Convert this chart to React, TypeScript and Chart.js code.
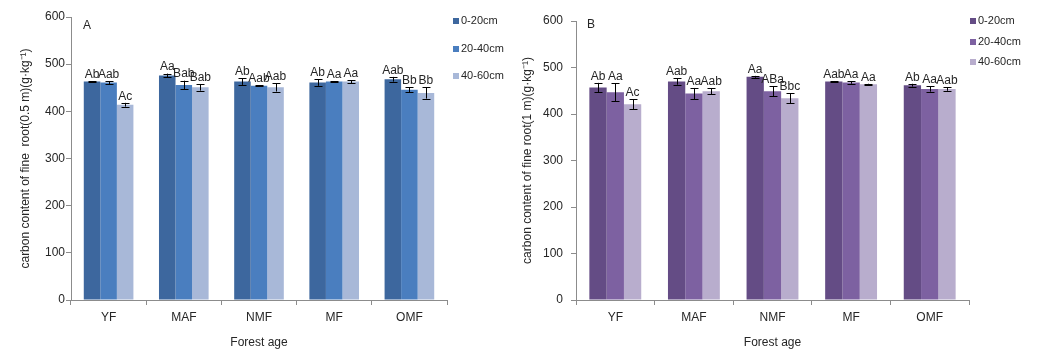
import React, { useEffect, useRef } from 'react';
import { Chart, registerables } from 'chart.js';

Chart.register(...registerables);

// ---- Data ----
const categories = ['YF', 'MAF', 'NMF', 'MF', 'OMF'];
const depthLabels = ['0-20cm', '20-40cm', '40-60cm'];
const yTickValues = [0, 100, 200, 300, 400, 500, 600];

// Panel A: carbon content of fine root (0.5 m)
const a_0_20 = [463, 476, 463, 461, 468];
const a_20_40 = [461, 456, 454, 463, 446];
const a_40_60 = [414, 451, 451, 463, 439];
const aErr_0_20 = [1, 4, 7, 7, 5];
const aErr_20_40 = [3, 9, 1, 1, 5];
const aErr_40_60 = [4, 7, 9, 3, 12];
const aSig_0_20 = ['Ab', 'Aa', 'Ab', 'Ab', 'Aab'];
const aSig_20_40 = ['Aab', 'Bab', 'Aab', 'Aa', 'Bb'];
const aSig_40_60 = ['Ac', 'Bab', 'Aab', 'Aa', 'Bb'];

// Panel B: carbon content of fine root (1 m)
const b_0_20 = [457, 470, 480, 470, 462];
const b_20_40 = [447, 444, 449, 468, 454];
const b_40_60 = [421, 449, 434, 464, 454];
const bErr_0_20 = [10, 7, 2, 1, 3];
const bErr_20_40 = [19, 12, 11, 3, 6];
const bErr_40_60 = [11, 6, 11, 1, 4];
const bSig_0_20 = ['Ab', 'Aab', 'Aa', 'Aab', 'Ab'];
const bSig_20_40 = ['Aa', 'Aa', 'ABa', 'Aa', 'Aa'];
const bSig_40_60 = ['Ac', 'Aab', 'Bbc', 'Aa', 'Aab'];

const colorsA = ['#3D679E', '#4A7EBF', '#A8B8D8'];
const colorsB = ['#644C85', '#7D61A1', '#B8ADCD'];

const FONT = "'Liberation Sans', Arial, sans-serif";
const AXIS_COLOR = '#8C8C8C';
const TEXT_COLOR = '#262626';

type PanelCfg = {
  left: number;
  width: number;
  padLeft: number;
  padTop: number;
  padRight: number;
  yAxisWidth: number;
  yTickPadding: number;
  yTitlePadTop: number;
  yTitle: string;
  letter: string;
  letterDx: number;
  letterY: number;
  legendDx: number;
  legendY0: number;
  legendStep: number;
  values: number[][];
  errors: number[][];
  sigs: string[][];
  colors: string[];
};

const panelA: PanelCfg = {
  left: 0,
  width: 520,
  padLeft: 14,
  padTop: 17,
  padRight: 73,
  yAxisWidth: 57,
  yTickPadding: 1,
  yTitlePadTop: 4,
  yTitle: 'carbon content of fine  root(0.5 m)(g·kg⁻¹)',
  letter: 'A',
  letterDx: 12,
  letterY: 26,
  legendDx: 6,
  legendY0: 21,
  legendStep: 27.5,
  values: [a_0_20, a_20_40, a_40_60],
  errors: [aErr_0_20, aErr_20_40, aErr_40_60],
  sigs: [aSig_0_20, aSig_20_40, aSig_40_60],
  colors: colorsA,
};

const panelB: PanelCfg = {
  left: 520,
  width: 527,
  padLeft: 0,
  padTop: 21,
  padRight: 78,
  yAxisWidth: 56,
  yTickPadding: 8,
  yTitlePadTop: 0,
  yTitle: 'carbon content of fine root(1 m)(g·kg⁻¹)',
  letter: 'B',
  letterDx: 11,
  letterY: 25,
  legendDx: 1,
  legendY0: 21,
  legendStep: 20.5,
  values: [b_0_20, b_20_40, b_40_60],
  errors: [bErr_0_20, bErr_20_40, bErr_40_60],
  sigs: [bSig_0_20, bSig_20_40, bSig_40_60],
  colors: colorsB,
};

function Panel({ cfg }: { cfg: PanelCfg }) {
  const ref = useRef<HTMLCanvasElement>(null);

  useEffect(() => {
    const canvas = ref.current;
    if (!canvas) return;

    const annotate = {
      id: 'annotate',
      afterDatasetsDraw(chart: any) {
        const ctx = chart.ctx;
        const yScale = chart.scales.y;
        ctx.save();
        chart.data.datasets.forEach((ds: any, i: number) => {
          const meta = chart.getDatasetMeta(i);
          meta.data.forEach((bar: any, j: number) => {
            const v = cfg.values[i][j];
            const e = cfg.errors[i][j];
            const x = bar.x;
            const yTop = yScale.getPixelForValue(v + e);
            const yBot = yScale.getPixelForValue(v - e);
            ctx.strokeStyle = '#000';
            ctx.lineWidth = 1;
            ctx.beginPath();
            ctx.moveTo(Math.round(x) + 0.5, yTop);
            ctx.lineTo(Math.round(x) + 0.5, yBot);
            ctx.moveTo(Math.round(x) - 3.5, Math.round(yTop) + 0.5);
            ctx.lineTo(Math.round(x) + 4.5, Math.round(yTop) + 0.5);
            ctx.moveTo(Math.round(x) - 3.5, Math.round(yBot) + 0.5);
            ctx.lineTo(Math.round(x) + 4.5, Math.round(yBot) + 0.5);
            ctx.stroke();
            ctx.fillStyle = TEXT_COLOR;
            ctx.font = `12px ${FONT}`;
            ctx.textAlign = 'center';
            ctx.textBaseline = 'bottom';
            ctx.fillText(cfg.sigs[i][j], x, yTop - 0.5);
          });
        });
        ctx.restore();
      },
      afterDraw(chart: any) {
        const ctx = chart.ctx;
        const area = chart.chartArea;
        ctx.save();
        // panel letter
        ctx.fillStyle = TEXT_COLOR;
        ctx.font = `12px ${FONT}`;
        ctx.textAlign = 'left';
        ctx.textBaseline = 'middle';
        ctx.fillText(cfg.letter, area.left + cfg.letterDx, cfg.letterY);
        // legend
        ctx.font = `11px ${FONT}`;
        chart.data.datasets.forEach((ds: any, i: number) => {
          const y = cfg.legendY0 + i * cfg.legendStep;
          const x = area.right + cfg.legendDx;
          ctx.fillStyle = ds.backgroundColor;
          ctx.fillRect(Math.round(x), Math.round(y - 3), 6, 6);
          ctx.fillStyle = TEXT_COLOR;
          ctx.fillText(ds.label, x + 8, y);
        });
        ctx.restore();
      },
    };

    const chart = new Chart(canvas, {
      type: 'bar',
      data: {
        labels: categories,
        datasets: depthLabels.map((label, i) => ({
          label,
          data: cfg.values[i],
          backgroundColor: cfg.colors[i],
          borderWidth: 0,
          barPercentage: 1,
          categoryPercentage: 0.66,
        })),
      },
      options: {
        responsive: false,
        maintainAspectRatio: false,
        animation: false,
        layout: {
          padding: { left: cfg.padLeft, top: cfg.padTop, right: cfg.padRight, bottom: 0 },
        },
        plugins: {
          legend: { display: false },
          tooltip: { enabled: false },
        },
        scales: {
          x: {
            grid: {
              display: true,
              drawOnChartArea: false,
              drawTicks: true,
              tickLength: 5,
              color: AXIS_COLOR,
              offset: true,
            },
            border: { color: AXIS_COLOR },
            ticks: { font: { size: 12, family: FONT }, color: TEXT_COLOR, padding: 5 },
            title: {
              display: true,
              text: 'Forest age',
              font: { size: 12, family: FONT },
              color: TEXT_COLOR,
              padding: { top: 4, bottom: 4 },
            },
            afterFit: (s: any) => {
              s.height = 54;
            },
          },
          y: {
            min: 0,
            max: 600,
            grid: {
              display: true,
              drawOnChartArea: false,
              drawTicks: true,
              tickLength: 5,
              color: AXIS_COLOR,
            },
            border: { color: AXIS_COLOR },
            ticks: { font: { size: 12, family: FONT }, color: TEXT_COLOR, padding: cfg.yTickPadding },
            afterBuildTicks: (s: any) => {
              s.ticks = yTickValues.map((v) => ({ value: v }));
            },
            title: {
              display: true,
              text: cfg.yTitle,
              font: { size: 12, family: FONT },
              color: TEXT_COLOR,
              padding: { top: cfg.yTitlePadTop, bottom: 4 },
            },
            afterFit: (s: any) => {
              s.width = cfg.yAxisWidth;
            },
          },
        },
      },
      plugins: [annotate],
    } as any);

    return () => chart.destroy();
  }, [cfg]);

  return (
    <canvas
      ref={ref}
      width={cfg.width}
      height={354}
      style={{ position: 'absolute', left: cfg.left, top: 0, width: cfg.width, height: 354 }}
    />
  );
}

export default function App() {
  return (
    <div
      style={{
        position: 'fixed',
        left: 0,
        top: 0,
        width: 1047,
        height: 354,
        background: '#fff',
        overflow: 'hidden',
      }}
    >
      <Panel cfg={panelA} />
      <Panel cfg={panelB} />
    </div>
  );
}
